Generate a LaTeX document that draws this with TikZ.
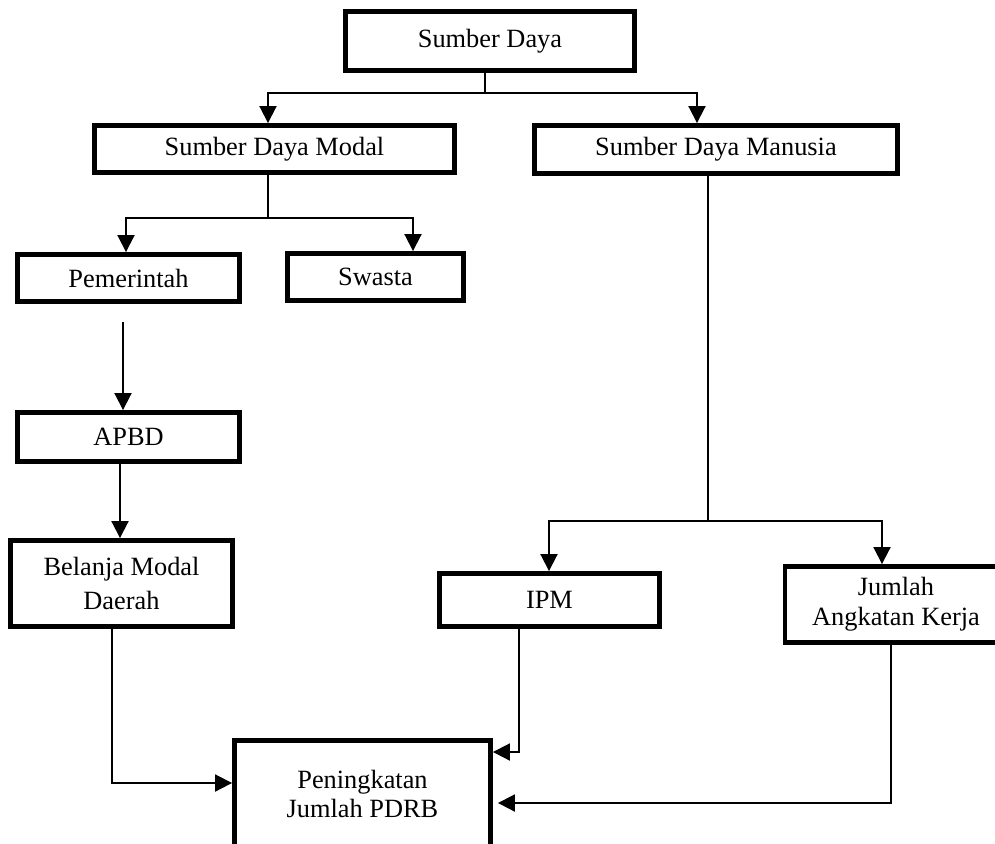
\documentclass[tikz,border=0pt]{standalone}
\usepackage{fontspec}
\setmainfont{Liberation Serif}
\usepackage{tikz}
\usetikzlibrary{arrows.meta}

\begin{document}
\begin{tikzpicture}[
    x=0.02cm, y=-0.02cm,
    box/.style={rectangle, draw=black, line width=2.8pt, fill=white, inner sep=0pt, align=center, font=\fontsize{15}{17}\selectfont},
    link/.style={draw=black, line width=1.1pt},
    arrow/.style={-{Triangle[width=0.34cm, length=0.34cm]}, link}
  ]
  \clip (0,0) rectangle (995,843);

  % Boxes
  \node[box, minimum width=5.78cm, minimum height=1.18cm] (sd) at (490, 41) {Sumber Daya};
  \node[box, minimum width=7.2cm, minimum height=0.94cm] (sdm) at (274.5, 149) {Sumber Daya Modal};
  \node[box, minimum width=7.26cm, minimum height=0.96cm] (sdmn) at (716, 149.5) {Sumber Daya Manusia};
  \node[box, minimum width=4.44cm, minimum height=0.94cm] (pem) at (128.5, 278) {Pemerintah};
  \node[box, minimum width=3.52cm, minimum height=0.94cm] (swa) at (375.5, 277) {Swasta};
  \node[box, minimum width=4.44cm, minimum height=0.98cm] (apbd) at (128.5, 437) {APBD};
  \node[box, minimum width=4.44cm, minimum height=1.72cm, font=\fontsize{15}{19}\selectfont] (bmd) at (121.5, 583.5) {Belanja Modal\\Daerah};
  \node[box, minimum width=4.4cm, minimum height=1.06cm] (ipm) at (549.5, 600) {IPM};
  \node[box, minimum width=4.44cm, minimum height=1.52cm] (jak) at (896, 604.5) {Jumlah\\Angkatan Kerja};
  \node[box, minimum width=5.12cm, minimum height=2.14cm] (pdrb) at (362.5, 794) {Peningkatan\\Jumlah PDRB};

  % Sumber Daya split
  \coordinate (s1) at (485, 93);
  \draw[link] (sd.south -| s1) -- (s1);
  \draw[arrow] (s1) -| (sdm.north -| 268,0);
  \draw[arrow] (s1) -| (sdmn.north -| 697,0);

  % Modal split
  \coordinate (s2) at (268, 218);
  \draw[link] (sdm.south -| s2) -- (s2);
  \draw[arrow] (s2) -| (pem.north -| 126,0);
  \draw[arrow] (s2) -| (swa.north -| 413,0);

  % Pemerintah chain
  \draw[arrow, shorten <=0.36cm] (pem.south -| 123,0) -- (apbd.north -| 123,0);
  \draw[arrow] (apbd.south -| 120,0) -- (bmd.north -| 120,0);

  % Manusia split
  \coordinate (s3) at (708, 521);
  \draw[link] (sdmn.south -| s3) -- (s3);
  \draw[arrow] (s3) -| (ipm.north -| 549,0);
  \draw[arrow] (s3) -| (jak.north -| 882,0);

  % Into PDRB
  \draw[arrow] (bmd.south -| 112,0) |- (pdrb.west |- 0,783);
  \draw[arrow] (ipm.south -| 519,0) |- (pdrb.east |- 0,752);
  \draw[arrow, shorten >=0.1cm] (jak.south -| 891,0) |- (pdrb.east |- 0,803);
\end{tikzpicture}
\end{document}
